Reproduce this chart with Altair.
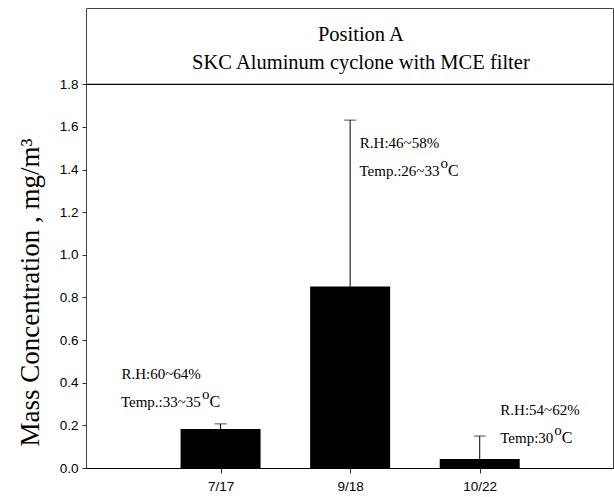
import altair as alt
import pandas as pd

# ---- data ----
dates = ["7/17", "9/18", "10/22"]
positions = [1, 2, 3]
means = [0.183, 0.851, 0.042]
upper = [0.207, 1.632, 0.150]

rh_text = ["R.H:60~64%", "R.H:46~58%", "R.H:54~62%"]
temp_text = ["Temp.:33~35", "Temp.:26~33", "Temp:30"]
ann_left = [0.235, 2.075, 3.159]
ann_right = [0.848, 2.689, 3.568]
rh_y = [0.442, 1.524, 0.271]
temp_y = [0.311, 1.393, 0.139]

title_lines = ["Position A", "SKC Aluminum cyclone with MCE filter"]
title_x = [2.083, 2.083]
title_y = [2.003, 1.872]

y_ticks = [0.0, 0.2, 0.4, 0.6, 0.8, 1.0, 1.2, 1.4, 1.6, 1.8]

bars = pd.DataFrame({"pos": positions, "date": dates, "mean": means, "upper": upper})
ann = pd.DataFrame({"left": ann_left, "right": ann_right, "rh": rh_text,
                    "temp": temp_text, "rh_y": rh_y, "temp_y": temp_y})
titles = pd.DataFrame({"t": title_lines, "x": title_x, "y": title_y})

SERIF = "Liberation Serif"
SANS = "Liberation Sans"

label_expr = "datum.value == 1 ? '7/17' : datum.value == 2 ? '9/18' : datum.value == 3 ? '10/22' : ''"

xscale = alt.Scale(domain=[0, 3.99], nice=False, zero=False)
yscale = alt.Scale(domain=[0, 2.158], nice=False)

x_enc = alt.X("pos:Q", scale=xscale,
              axis=alt.Axis(values=positions, labelExpr=label_expr, title=None,
                            grid=False, tickSize=5, tickColor="#333",
                            labelFont=SANS, labelFontSize=13.5, labelColor="black",
                            labelPadding=6, domainColor="black"))
y_enc = alt.Y("mean:Q", scale=yscale,
              axis=alt.Axis(values=y_ticks, format=".1f", grid=False,
                            title="Mass Concentration , mg/m³",
                            titleFont=SERIF, titleFontSize=27, titleFontWeight="normal",
                            titleColor="black", titleX=-56, titleY=284,
                            titleAngle=-90, titleAlign="center", titleBaseline="middle",
                            labelFont=SANS, labelFontSize=13.5, labelColor="black",
                            tickSize=4, tickColor="#333", labelPadding=4,
                            domain=False))

base = alt.Chart(bars)

bar = base.mark_bar(size=80, color="black").encode(x=x_enc, y=y_enc, y2=alt.datum(0))

err = base.mark_rule(color="black", strokeWidth=1).encode(
    x=alt.X("pos:Q", scale=xscale), y=alt.Y("mean:Q", scale=yscale), y2="upper:Q")

cap = base.mark_tick(orient="horizontal", size=12, thickness=1, color="black").encode(
    x=alt.X("pos:Q", scale=xscale), y=alt.Y("upper:Q", scale=yscale))

top_rule = alt.Chart(pd.DataFrame({"v": [1.8]})).mark_rule(color="black", strokeWidth=1.2).encode(
    y=alt.Y("v:Q", scale=yscale))

annb = alt.Chart(ann)
rh = annb.mark_text(font=SERIF, fontSize=15, align="left", baseline="middle", color="black").encode(
    x=alt.X("left:Q", scale=xscale), y=alt.Y("rh_y:Q", scale=yscale), text="rh:N")
temp = annb.mark_text(font=SERIF, fontSize=15, align="right", baseline="middle", color="black").encode(
    x=alt.X("right:Q", scale=xscale), y=alt.Y("temp_y:Q", scale=yscale), text="temp:N")
sup_o = annb.mark_text(font=SERIF, fontSize=15, align="left", baseline="middle", color="black",
                       dx=1, dy=-8).encode(
    x=alt.X("right:Q", scale=xscale), y=alt.Y("temp_y:Q", scale=yscale), text=alt.value("o"))
cel = annb.mark_text(font=SERIF, fontSize=16, align="left", baseline="middle", color="black",
                     dx=8.5, dy=0).encode(
    x=alt.X("right:Q", scale=xscale), y=alt.Y("temp_y:Q", scale=yscale), text=alt.value("C"))

ttl = alt.Chart(titles).mark_text(font=SERIF, fontSize=20.5, align="center",
                                  baseline="alphabetic", color="black").encode(
    x=alt.X("x:Q", scale=xscale), y=alt.Y("y:Q", scale=yscale), text="t:N")

chart = alt.layer(bar, err, cap, top_rule, rh, temp, sup_o, cel, ttl).properties(
    width=527, height=460,
    autosize=alt.AutoSizeParams(type="none"),
    padding={"left": 86, "top": 8, "right": 1, "bottom": 29},
    background="white",
).configure_view(stroke="#444", strokeWidth=1)

chart.save("out.html", embed_options={"renderer": "svg", "actions": False})
